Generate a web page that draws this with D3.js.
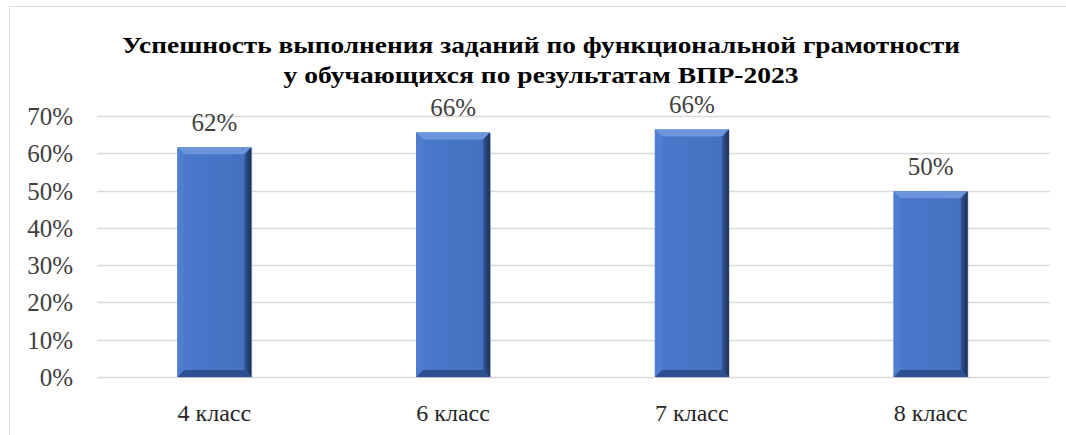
<!DOCTYPE html>
<html>
<head>
<meta charset="utf-8">
<script src="https://cdn.jsdelivr.net/npm/d3@7/dist/d3.min.js"></script>
<style>
  body { margin: 0; background: #fff; }
  svg { display: block; }
</style>
</head>
<body>
<svg id="chart" width="1066" height="435"></svg>
<script>
var categories = ["4 класс", "6 класс", "7 класс", "8 класс"];
var values = [61.6, 65.6, 66.4, 49.8];
var yTicks = [0, 10, 20, 30, 40, 50, 60, 70];
var titleLines = ["Успешность выполнения заданий по функциональной грамотности",
                  "у обучающихся по результатам ВПР-2023"];

var FONT = "'Liberation Serif', 'Times New Roman', 'DejaVu Serif Condensed', 'DejaVu Serif', serif";
var svg = d3.select("#chart").attr("font-family", FONT);

// frame (only top and left visible)
svg.append("line").attr("x1", 9.5).attr("x2", 9.5).attr("y1", 6).attr("y2", 435)
  .attr("stroke", "#d9d9d9");
svg.append("line").attr("x1", 9).attr("x2", 1066).attr("y1", 6.5).attr("y2", 6.5)
  .attr("stroke", "#d9d9d9");

var x = d3.scaleBand().domain(categories).range([95, 1050])
  .paddingInner(0.69).paddingOuter(0.345);
var y = d3.scaleLinear().domain([0, 70]).range([377, 116]);

// title
var title = svg.selectAll(".title").data(titleLines).enter().append("text")
  .attr("class", "title")
  .attr("x", 541)
  .attr("y", function(d, i) { return 53 + i * 30; })
  .attr("text-anchor", "middle")
  .attr("font-size", 24)
  .attr("font-weight", "bold")
  .attr("fill", "#000")
  .text(function(d) { return d; });

// grid
svg.selectAll(".grid").data(yTicks).enter().append("line")
  .attr("x1", 97).attr("x2", 1050)
  .attr("y1", function(d) { return Math.round(y(d)) + 0.5; })
  .attr("y2", function(d) { return Math.round(y(d)) + 0.5; })
  .attr("stroke", "#d9d9d9").attr("stroke-width", 1.3);

// y axis labels
svg.selectAll(".ylab").data(yTicks).enter().append("text")
  .attr("x", 73)
  .attr("y", function(d) { return y(d) + 9; })
  .attr("text-anchor", "end")
  .attr("font-size", 25)
  .attr("fill", "#404040")
  .text(function(d) { return d + "%"; });

// bars with bevel
var defs = svg.append("defs");
var g = defs.append("linearGradient").attr("id", "face").attr("x1", 0).attr("x2", 1).attr("y1", 0).attr("y2", 0);
g.append("stop").attr("offset", "0%").attr("stop-color", "#4a79cc");
g.append("stop").attr("offset", "100%").attr("stop-color", "#4470c0");
var gr = defs.append("linearGradient").attr("id", "right").attr("x1", 0).attr("x2", 1).attr("y1", 0).attr("y2", 0);
gr.append("stop").attr("offset", "0%").attr("stop-color", "#34589a");
gr.append("stop").attr("offset", "100%").attr("stop-color", "#1a2f55");

var bw = x.bandwidth();
var bev = 7;
var bars = svg.selectAll(".bar").data(values).enter().append("g")
  .attr("transform", function(d, i) { return "translate(" + x(categories[i]) + "," + y(d) + ")"; });

bars.each(function(d) {
  var h = y(0) - y(d);
  var b = d3.select(this);
  b.append("rect").attr("x", 1).attr("y", 1).attr("width", bw).attr("height", h)
    .attr("fill", "#a0a8b8").attr("opacity", 0.5);
  b.append("rect").attr("width", bw).attr("height", h).attr("fill", "url(#face)");
  b.append("polygon").attr("points", [[0,0],[bw,0],[bw-bev,bev],[bev,bev]].join(" "))
    .attr("fill", "#6d95dc");
  b.append("polygon").attr("points", [[0,0],[bev,bev],[bev,h-bev],[0,h]].join(" "))
    .attr("fill", "#4f7dd0");
  b.append("polygon").attr("points", [[bw,0],[bw,h],[bw-bev,h-bev],[bw-bev,bev]].join(" "))
    .attr("fill", "url(#right)");
  b.append("polygon").attr("points", [[0,h],[bev,h-bev],[bw-bev,h-bev],[bw,h]].join(" "))
    .attr("fill", "#2d5090");
});

// value labels
svg.selectAll(".vlab").data(values).enter().append("text")
  .attr("x", function(d, i) { return x(categories[i]) + bw / 2; })
  .attr("y", function(d) { return y(d) - 16; })
  .attr("text-anchor", "middle")
  .attr("font-size", 25)
  .attr("fill", "#404040")
  .text(function(d) { return Math.round(d) + "%"; });

// x labels
svg.selectAll(".xlab").data(categories).enter().append("text")
  .attr("x", function(d) { return x(d) + bw / 2; })
  .attr("y", 421)
  .attr("text-anchor", "middle")
  .attr("font-size", 24)
  .attr("fill", "#262626")
  .text(function(d) { return d; });

// fit title width to reference
title.each(function(d, i) {
  var target = i === 0 ? 838 : 515;
  d3.select(this).attr("textLength", target).attr("lengthAdjust", "spacingAndGlyphs");
});
</script>
</body>
</html>
